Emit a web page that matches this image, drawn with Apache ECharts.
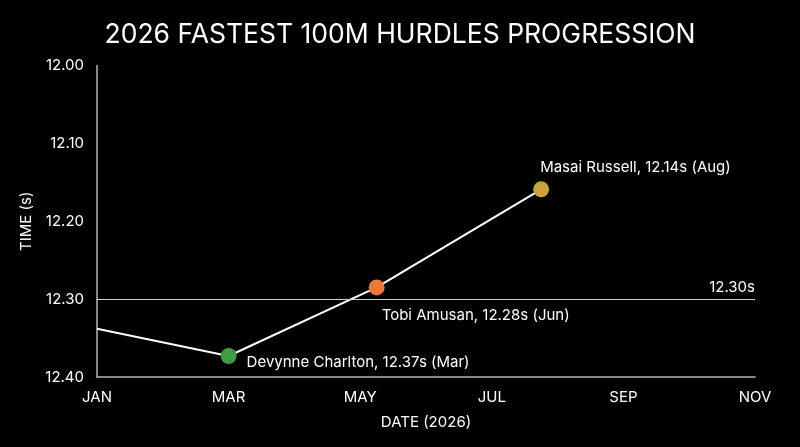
<!DOCTYPE html>
<html>
<head>
<meta charset="utf-8">
<script src="https://cdn.jsdelivr.net/npm/echarts@6/dist/echarts.min.js"></script>
<style>
  html, body { margin: 0; padding: 0; background: #000; }
  #main { width: 800px; height: 447px; }
</style>
</head>
<body>
<div id="main"></div>
<script>
// months counted from Jan 1 (0 = JAN, 10 = NOV)
var monthTicks = [0, 2, 4, 6, 8, 10];
var monthLabels = ['JAN', 'MAR', 'MAY', 'JUL', 'SEP', 'NOV'];
var yTicks = [12.00, 12.10, 12.20, 12.30, 12.40];

var dateMonths = [0, 2.0, 4.25, 6.75];
var times = [12.338, 12.373, 12.285, 12.159];
var athletes = [null, 'Devynne Charlton, 12.37s (Mar)', 'Tobi Amusan, 12.28s (Jun)', 'Masai Russell, 12.14s (Aug)'];
var dotColors = [null, '#3f9b46', '#ed7935', '#c9a33b'];
var labelSpots = [null, 'right', 'bottom', 'top'];

var refTime = 12.30;
var refLabel = '12.30s';

var FONT = 'Inter';
var chart = echarts.init(document.getElementById('main'));

var points = dateMonths.map(function(m, i) {
    var pt = { value: [m, times[i]] };
    if (!athletes[i]) {
        pt.symbol = 'none';
        return pt;
    }
    pt.symbol = 'circle';
    pt.symbolSize = 16;
    pt.itemStyle = { color: dotColors[i] };
    var lab = {
        show: true,
        formatter: athletes[i],
        position: labelSpots[i],
        color: '#fff',
        fontFamily: FONT,
        fontSize: 15
    };
    if (labelSpots[i] === 'right') lab.offset = [5, 7];
    if (labelSpots[i] === 'bottom') { lab.align = 'left'; lab.offset = [5, 8]; }
    if (labelSpots[i] === 'top') { lab.align = 'left'; lab.offset = [-1, -1]; }
    pt.label = lab;
    return pt;
});

var option = {
    backgroundColor: '#000',
    animation: false,
    title: {
        text: '2026 FASTEST 100M HURDLES PROGRESSION',
        left: 'center',
        top: 17,
        textStyle: { color: '#fff', fontFamily: FONT, fontWeight: 'normal', fontSize: 26.5 }
    },
    grid: { left: 97, right: 45, top: 65.5, bottom: 70 },
    xAxis: {
        type: 'value',
        min: monthTicks[0],
        max: monthTicks[monthTicks.length - 1],
        interval: 2,
        name: 'DATE (2026)',
        nameLocation: 'middle',
        nameGap: 38,
        nameTextStyle: { color: '#fff', fontFamily: FONT, fontSize: 15 },
        axisLine: { lineStyle: { color: '#b5b5b5', width: 1.5 } },
        axisTick: { show: false },
        splitLine: { show: false },
        axisLabel: {
            color: '#fff', fontFamily: FONT, fontSize: 15, margin: 13,
            formatter: function(v) {
                var i = monthTicks.indexOf(v);
                return i >= 0 ? monthLabels[i] : '';
            }
        }
    },
    yAxis: {
        type: 'value',
        inverse: true,
        min: yTicks[0],
        max: yTicks[yTicks.length - 1],
        interval: 0.1,
        name: 'TIME (s)',
        nameLocation: 'middle',
        nameGap: 58,
        nameTextStyle: { color: '#fff', fontFamily: FONT, fontSize: 15 },
        axisLine: { show: true, lineStyle: { color: '#b5b5b5', width: 1.5 } },
        axisTick: { show: false },
        splitLine: { show: false },
        axisLabel: {
            color: '#fff', fontFamily: FONT, fontSize: 15, margin: 13,
            formatter: function(v) { return v.toFixed(2); }
        }
    },
    series: [{
        type: 'line',
        data: points,
        lineStyle: { color: '#fff', width: 2 },
        z: 3,
        markLine: {
            silent: true,
            symbol: 'none',
            lineStyle: { color: '#d0d0d0', width: 1, type: 'solid' },
            label: {
                show: true,
                position: 'insideEndTop',
                formatter: refLabel,
                color: '#fff',
                fontFamily: FONT,
                fontSize: 15,
                distance: [0, 4]
            },
            data: [{ yAxis: refTime }]
        }
    }]
};

chart.setOption(option);
</script>
</body>
</html>
